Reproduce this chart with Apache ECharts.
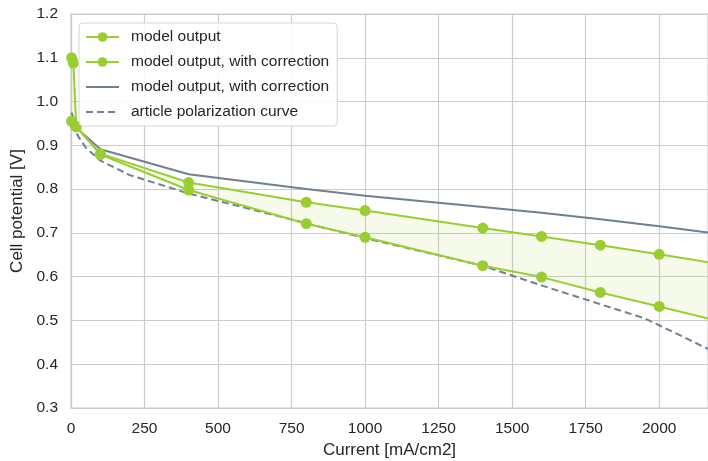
<!DOCTYPE html>
<html>
<head>
<meta charset="utf-8">
<script src="https://cdn.jsdelivr.net/npm/echarts@6/dist/echarts.min.js"></script>
<style>
  html, body { margin: 0; padding: 0; background: #fff; }
  #chart { width: 708px; height: 461px; }
</style>
</head>
<body>
<div id="chart"></div>
<script>
// Polarization curves: current density [mA/cm2] vs cell potential [V]
const seriesNames = [
  'model output',
  'model output, with correction',
  'model output, with correction',
  'article polarization curve'
];

// model output (upper green curve)
const modelX = [2, 8, 18, 100, 400, 800, 1000, 1400, 1600, 1800, 2000, 2200];
const modelY = [1.10, 1.088, 0.942, 0.881, 0.815, 0.770, 0.751, 0.711, 0.692, 0.672, 0.651, 0.629];

// model output with correction (lower green curve)
const corrX = [2, 15, 100, 400, 800, 1000, 1400, 1600, 1800, 2000, 2200];
const corrY = [0.955, 0.945, 0.879, 0.798, 0.721, 0.690, 0.625, 0.599, 0.564, 0.532, 0.499];

// model output with correction (grey curve)
const greyX = [2, 18, 100, 400, 800, 1000, 1400, 1600, 1800, 2000, 2200];
const greyY = [0.975, 0.940, 0.891, 0.834, 0.800, 0.785, 0.759, 0.746, 0.731, 0.715, 0.698];

// polarization curve from the article (dashed)
const articleX = [5, 25, 50, 100, 200, 400, 800, 1000, 1400, 1600, 1800, 1950, 2000, 2200];
const articleY = [0.95, 0.92, 0.895, 0.865, 0.832, 0.790, 0.722, 0.688, 0.625, 0.580, 0.537, 0.505, 0.489, 0.424];

const xTicks = [0, 250, 500, 750, 1000, 1250, 1500, 1750, 2000];
const yTicks = [0.3, 0.4, 0.5, 0.6, 0.7, 0.8, 0.9, 1.0, 1.1, 1.2];

const pairs = (xs, ys) => xs.map((x, i) => [x, ys[i]]);

const GREEN = '#9acd32';
const SLATE = '#708090';
const GRIDC = '#cccccc';
const FONT = 'Liberation Sans, Arial, sans-serif';

const chart = echarts.init(document.getElementById('chart'), null, { renderer: 'canvas' });

// legend entries for plain lines: keep the line, hide the marker
const lineOnly = { color: 'rgba(0,0,0,0)', borderWidth: 0 };

chart.setOption({
  animation: false,
  backgroundColor: '#ffffff',
  textStyle: { fontFamily: FONT },
  grid: { left: 71, right: 0, top: 14, bottom: 53, containLabel: false,
          outerBoundsMode: 'none',
          show: true, borderColor: GRIDC, borderWidth: 1.2 },
  legend: {
    orient: 'vertical',
    left: 79, top: 23,
    padding: [6, 8, 6, 6],
    backgroundColor: 'rgba(255,255,255,0.85)',
    borderColor: '#d6d6d6', borderWidth: 1, borderRadius: 4,
    itemWidth: 33, itemHeight: 12, itemGap: 9,
    textStyle: { fontSize: 15.5, color: '#262626', fontFamily: FONT, padding: [0, 0, 0, 7] },
    data: [
      { name: seriesNames[0] },
      { name: seriesNames[1] + ' ' },
      { name: seriesNames[2] + '  ', itemStyle: lineOnly },
      { name: seriesNames[3], itemStyle: lineOnly }
    ],
    formatter: n => n.trim()
  },
  xAxis: {
    type: 'value', min: 0, max: 2166, interval: 250,
    name: 'Current [mA/cm2]', nameLocation: 'middle', nameGap: 34,
    nameTextStyle: { fontSize: 17, color: '#262626', fontFamily: FONT },
    axisLine: { show: true, lineStyle: { color: GRIDC, width: 1.2 } },
    axisTick: { show: false },
    axisLabel: {
      fontSize: 15.5, color: '#262626', margin: 13, showMaxLabel: false,
      formatter: v => (xTicks.includes(v) ? String(v) : '')
    },
    splitLine: { show: true, lineStyle: { color: GRIDC, width: 1.2 } }
  },
  yAxis: {
    type: 'value', min: 0.3, max: 1.2, interval: 0.1,
    name: 'Cell potential [V]', nameLocation: 'middle', nameGap: 32,
    nameTextStyle: { fontSize: 17, color: '#262626', fontFamily: FONT },
    axisLine: { show: true, lineStyle: { color: GRIDC, width: 1.2 } },
    axisTick: { show: false },
    axisLabel: {
      fontSize: 15.5, color: '#262626', margin: 13,
      formatter: v => {
        const t = yTicks.find(k => Math.abs(k - v) < 1e-6);
        return t === undefined ? '' : t.toFixed(1);
      }
    },
    splitLine: { show: true, lineStyle: { color: GRIDC, width: 1.2 } }
  },
  series: [
    {
      // shaded band between the two green curves
      type: 'custom',
      silent: true,
      clip: true,
      z: 1,
      data: [0],
      renderItem: (params, api) => {
        const pts = [];
        for (let i = 0; i < modelX.length; i++) pts.push(api.coord([modelX[i], modelY[i]]));
        for (let i = corrX.length - 1; i >= 0; i--) pts.push(api.coord([corrX[i], corrY[i]]));
        return {
          type: 'polygon',
          shape: { points: pts },
          style: { fill: 'rgba(154,205,50,0.10)', stroke: null }
        };
      }
    },
    {
      name: seriesNames[0],
      type: 'line', z: 3,
      data: pairs(modelX, modelY),
      symbol: 'circle', symbolSize: 11, showSymbol: true,
      itemStyle: { color: GREEN },
      lineStyle: { color: GREEN, width: 2 }
    },
    {
      name: seriesNames[1] + ' ',
      type: 'line', z: 3,
      data: pairs(corrX, corrY),
      symbol: 'circle', symbolSize: 11, showSymbol: true,
      itemStyle: { color: GREEN },
      lineStyle: { color: GREEN, width: 2 }
    },
    {
      name: seriesNames[2] + '  ',
      type: 'line', z: 2,
      data: pairs(greyX, greyY),
      symbol: 'none',
      itemStyle: { color: SLATE },
      lineStyle: { color: SLATE, width: 2 }
    },
    {
      name: seriesNames[3],
      type: 'line', z: 2,
      data: pairs(articleX, articleY),
      symbol: 'none',
      itemStyle: { color: SLATE },
      lineStyle: { color: SLATE, width: 2, type: [7, 4] }
    }
  ]
});
</script>
</body>
</html>
